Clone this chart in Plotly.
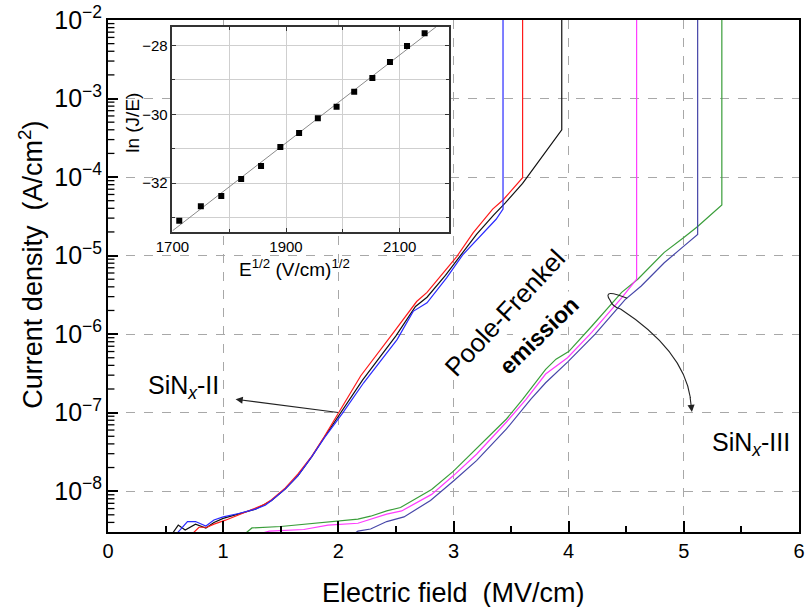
import numpy as np
import plotly.graph_objects as go

# ---------------- J-E characteristics (E in MV/cm, J in A/cm^2) ----------------
# SiNx-II samples
e_red = [0.68, 0.79, 0.86, 0.92, 1.02, 1.19, 1.36, 1.42, 1.54, 1.65, 1.77, 1.88,
         2.02, 2.195, 2.48, 2.68, 2.77, 2.91, 3.03, 3.17, 3.34, 3.43, 3.60, 3.60]
j_red = [2.4e-9, 3.47e-9, 3.47e-9, 3.8e-9, 4.27e-9, 5.37e-9, 6.8e-9, 7.8e-9, 1.1e-8,
         1.66e-8, 2.8e-8, 5.0e-8, 1.1e-7, 2.95e-7, 1.05e-6, 2.6e-6, 3.4e-6, 6.0e-6,
         9.8e-6, 1.95e-5, 3.9e-5, 5.1e-5, 9.8e-5, 3e-2]

e_blue = [0.56, 0.69, 0.76, 0.85, 0.92, 1.00, 1.135, 1.28, 1.365, 1.42, 1.54, 1.65,
          1.765, 1.88, 2.04, 2.22, 2.51, 2.65, 2.77, 2.94, 3.08, 3.23, 3.37, 3.43, 3.43]
j_blue = [2.5e-9, 4.1e-9, 4.1e-9, 3.6e-9, 4.3e-9, 4.7e-9, 5.2e-9, 5.9e-9, 6.6e-9,
          7.6e-9, 1.07e-8, 1.58e-8, 2.7e-8, 4.8e-8, 1.0e-7, 2.4e-7, 8.5e-7, 1.95e-6,
          2.5e-6, 5.2e-6, 1.02e-5, 1.78e-5, 2.9e-5, 3.9e-5, 3e-2]

e_black = [0.53, 0.61, 0.67, 0.76, 0.85, 0.92, 1.00, 1.14, 1.28, 1.42, 1.54, 1.65,
           1.77, 1.88, 2.03, 2.21, 2.50, 2.67, 2.77, 2.93, 3.06, 3.20, 3.35, 3.45,
           3.60, 3.94, 3.94]
j_black = [2.5e-9, 3.7e-9, 3.2e-9, 3.8e-9, 3.4e-9, 4.0e-9, 4.5e-9, 5.1e-9, 5.9e-9,
           7.6e-9, 1.07e-8, 1.58e-8, 2.75e-8, 4.9e-8, 1.05e-7, 2.6e-7, 9.5e-7,
           2.25e-6, 2.95e-6, 5.6e-6, 1.0e-5, 1.86e-5, 3.3e-5, 4.7e-5, 8.3e-5,
           4.0e-4, 3e-2]

# SiNx-III samples
e_green = [1.14, 1.25, 1.5, 1.91, 2.17, 2.28, 2.42, 2.54, 2.81, 3.00, 3.20, 3.46,
           3.60, 3.69, 3.80, 3.89, 4.00, 4.20, 4.46, 4.60, 4.83, 5.00, 5.12, 5.33, 5.33]
j_green = [2.5e-9, 3.4e-9, 3.55e-9, 4.1e-9, 4.4e-9, 4.8e-9, 5.6e-9, 6.2e-9, 1.05e-8,
           1.8e-8, 3.5e-8, 8.3e-8, 1.48e-7, 2.2e-7, 3.55e-7, 4.8e-7, 6.0e-7, 1.26e-6,
           3.4e-6, 5.0e-6, 1.1e-5, 1.7e-5, 2.35e-5, 4.4e-5, 3e-2]

e_magenta = [1.18, 1.4, 1.7, 1.91, 2.17, 2.42, 2.55, 2.81, 3.00, 3.20, 3.46, 3.63,
             3.80, 3.99, 4.20, 4.46, 4.59, 4.59]
j_magenta = [2.5e-9, 3.1e-9, 3.25e-9, 3.7e-9, 3.9e-9, 5.1e-9, 5.6e-9, 9.1e-9, 1.58e-8,
             2.95e-8, 7.6e-8, 1.48e-7, 3.1e-7, 5.0e-7, 1.05e-6, 2.9e-6, 5.0e-6, 3e-2]

e_navy = [2.08, 2.17, 2.28, 2.42, 2.57, 2.80, 3.00, 3.20, 3.46, 3.67, 3.80, 3.99,
          4.23, 4.49, 4.63, 4.83, 5.00, 5.12, 5.12]
j_navy = [2.5e-9, 3.1e-9, 3.3e-9, 4.1e-9, 4.7e-9, 7.6e-9, 1.35e-8, 2.45e-8, 6.2e-8,
          1.48e-7, 2.4e-7, 4.4e-7, 1.0e-6, 2.75e-6, 4.1e-6, 8.1e-6, 1.32e-5, 1.86e-5, 3e-2]

# ---------------- Poole-Frenkel plot: ln(J/E) vs E^(1/2) ----------------
sqrt_e = [1712, 1750, 1786, 1821, 1856, 1890, 1923, 1956, 1989, 2020, 2052, 2083, 2113, 2144]
ln_je = [-33.09, -32.67, -32.37, -31.88, -31.50, -30.95, -30.54, -30.11, -29.78,
         -29.34, -28.94, -28.48, -28.01, -27.64]

FONT = "Liberation Sans, Arial, sans-serif"
W, H = 807, 607
ML, MR, MT, MB = 108, 2, 20, 75
PW, PH = W - ML - MR, H - MT - MB
YR = [-8.52, -2]


def px_x(p):
    return (p - ML) / PW


def px_y(p):
    return (H - MB - p) / PH


fig = go.Figure()

curves = [
    (e_black, j_black, "#111111"),
    (e_red, j_red, "#ff1a1a"),
    (e_blue, j_blue, "#2a2aff"),
    (e_green, j_green, "#3a9e3a"),
    (e_magenta, j_magenta, "#ff3cff"),
    (e_navy, j_navy, "#4646a8"),
]
for ex, jy, col in curves:
    fig.add_trace(go.Scatter(x=ex, y=jy, mode="lines", line=dict(color=col, width=1.2),
                             showlegend=False, xaxis="x", yaxis="y"))

# inset: data and linear fit
fit = np.polyfit(sqrt_e, ln_je, 1)
fx = np.array([1700, 2187])
fig.add_trace(go.Scatter(x=fx, y=np.polyval(fit, fx), mode="lines",
                         line=dict(color="#8a8a8a", width=1), showlegend=False,
                         xaxis="x2", yaxis="y2"))
fig.add_trace(go.Scatter(x=sqrt_e, y=ln_je, mode="markers",
                         marker=dict(symbol="square", size=6, color="black"),
                         showlegend=False, xaxis="x2", yaxis="y2"))

grid_main = dict(showgrid=True, gridcolor="#a8a8a8", gridwidth=1, griddash="dash")

fig.update_layout(
    width=W, height=H,
    margin=dict(l=ML, r=MR, t=MT, b=MB),
    paper_bgcolor="white", plot_bgcolor="white",
    font=dict(family=FONT, color="black"),
    xaxis=dict(range=[0, 6], dtick=1, tick0=0, ticks="inside", ticklen=11, tickwidth=2,
               tickcolor="black", showline=True, linecolor="black", linewidth=2,
               mirror=True, zeroline=False, tickfont=dict(size=20),
               ticklabeloverflow="allow",
               minor=dict(dtick=0.5, ticks="inside", ticklen=6, tickwidth=1.5,
                          tickcolor="black"),
               **grid_main),
    yaxis=dict(type="log", range=YR, dtick=1, exponentformat="power",
               ticks="inside", ticklen=10, tickwidth=2, tickcolor="black",
               showline=True, linecolor="black", linewidth=2, mirror=True,
               zeroline=False, tickfont=dict(size=20),
               **grid_main),
    xaxis2=dict(domain=[px_x(173), px_x(452)], anchor="y2", range=[1700, 2187],
                tick0=1700, dtick=200, ticks="inside", ticklen=4, tickcolor="#333",
                showline=True, linecolor="#333", linewidth=1.5, mirror="ticks",
                zeroline=False, tickfont=dict(size=15),
                showgrid=True, gridcolor="#cfcfcf", gridwidth=1,
                minor=dict(dtick=100, showgrid=True, gridcolor="#cfcfcf",
                           ticks="inside", ticklen=3, tickcolor="#333")),
    yaxis2=dict(domain=[px_y(232), px_y(27)], anchor="x2", range=[-33.42, -27.46],
                tick0=-28, dtick=2, ticks="inside", ticklen=4, tickcolor="#333",
                showline=True, linecolor="#333", linewidth=1.5, mirror="ticks",
                zeroline=False, tickfont=dict(size=15),
                showgrid=True, gridcolor="#cfcfcf", gridwidth=1,
                minor=dict(dtick=1, showgrid=True, gridcolor="#cfcfcf",
                           ticks="inside", ticklen=3, tickcolor="#333")),
)

# minor decade ticks (2..9) along the inner side of the current-density axis
for n in range(-9, -2):
    for k in range(2, 10):
        lv = np.log10(k) + n
        if YR[0] < lv < YR[1]:
            yp = (lv - YR[0]) / (YR[1] - YR[0])
            fig.add_shape(type="line", xref="paper", yref="paper", x0=0, x1=6.5 / PW,
                          y0=yp, y1=yp, line=dict(color="black", width=1.3))


def label(text, x, y, size, angle=0, **kw):
    return dict(text=text, x=px_x(x), y=px_y(y), xref="paper", yref="paper",
                xanchor="center", yanchor="middle", showarrow=False,
                textangle=angle, font=dict(size=size), **kw)


ann = [
    # axis titles
    label("Electric field  (MV/cm)", 456, 593, 27),
    label("Current density  (A/cm<sup>2</sup>)", 30, 265, 27, -90),
    label("ln (J/E)", 132, 123, 19, -90),
    label("E<sup>1/2</sup> (V/cm)<sup>1/2</sup>", 296, 268, 19),
    # sample labels
    label("SiN<sub><i>x</i></sub>-II", 184, 387, 25),
    label("SiN<sub><i>x</i></sub>-III", 757, 444, 25),
    label("Poole-Frenkel", 508, 313, 26, -47, bgcolor="white"),
    label("<b>emission</b>", 543, 335, 23, -44, bgcolor="white"),
]

# arrows
ann.append(dict(text="", x=px_x(236.7), y=px_y(399.3), xref="paper", yref="paper",
                showarrow=True, ax=104, ay=13.4, arrowhead=2, arrowsize=1.3,
                arrowwidth=1.1, arrowcolor="#222"))
ann.append(dict(text="", x=px_x(697), y=px_y(412), xref="paper", yref="paper",
                showarrow=True, ax=-2, ay=-16, arrowhead=2, arrowsize=1.3,
                arrowwidth=1.1, arrowcolor="#222"))
fig.update_layout(annotations=ann)

# curved leader from the SiNx-III curves down to its label
pts = [(631.7, 298.3), (606, 288), (614.3, 300), (617, 307), (625, 309),
       (662, 333), (690, 362), (695.5, 398)]
P = [(px_x(a), px_y(b)) for a, b in pts]
path = ("M {0[0]},{0[1]} Q {1[0]},{1[1]} {2[0]},{2[1]} Q {3[0]},{3[1]} {4[0]},{4[1]} "
        "C {5[0]},{5[1]} {6[0]},{6[1]} {7[0]},{7[1]}").format(*P)
fig.add_shape(type="path", path=path, xref="paper", yref="paper",
              line=dict(color="#222", width=1.1))

fig.write_html("out.html")
